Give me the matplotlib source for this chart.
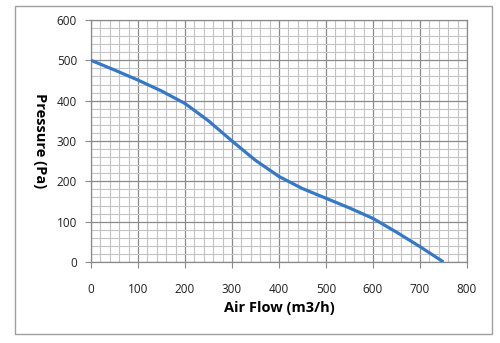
import matplotlib.pyplot as plt
from matplotlib.patches import Rectangle
from matplotlib.ticker import MultipleLocator

# 风量-风压曲线
air_flow = [0, 50, 100, 150, 200, 250, 300, 350, 400, 450, 500, 550, 600, 650, 700, 750]
pressure = [500, 476, 451, 424, 393, 350, 300, 252, 212, 182, 158, 134, 108, 74, 38, 0]

x_ticks = [0, 100, 200, 300, 400, 500, 600, 700, 800]
y_ticks = [0, 100, 200, 300, 400, 500, 600]

plt.rcParams['font.family'] = ['Open Sans', 'DejaVu Sans']

fig = plt.figure(figsize=(5.0, 3.43), dpi=100)
W, H = 500, 343
ax = fig.add_axes([91 / W, 1 - 262 / H, (467 - 91) / W, (262 - 20) / H])

# 外边框
fig.patches.append(Rectangle((15 / W, 1 - 334 / H), (492 - 15) / W, (334 - 6) / H,
                             transform=fig.transFigure, fill=False,
                             edgecolor='#a0a0a0', linewidth=1.0))

ax.plot(air_flow, pressure, color='#3478c9', linewidth=2.3, solid_capstyle='butt',
        solid_joinstyle='round', zorder=3)

ax.set_xlim(0, 800)
ax.set_ylim(0, 600)
ax.set_xticks(x_ticks)
ax.set_yticks(y_ticks)
ax.xaxis.set_minor_locator(MultipleLocator(20))
ax.yaxis.set_minor_locator(MultipleLocator(20))
ax.grid(which='major', color='#8a8a8a', linewidth=0.9, zorder=1)
ax.grid(which='minor', color='#c4c4c4', linewidth=0.8, zorder=0)
ax.set_axisbelow(True)

for s in ax.spines.values():
    s.set_color('#8a8a8a')
    s.set_linewidth(0.9)
ax.tick_params(which='major', length=4, color='#8a8a8a', labelsize=8.5, labelcolor='#202020')
ax.tick_params(axis='x', which='major', pad=11)
ax.tick_params(axis='y', which='major', pad=6)
ax.tick_params(which='minor', length=0)

ax.set_xlabel('Air Flow (m3/h)', fontsize=10.5, fontweight='bold', labelpad=4)
ax.set_ylabel('Pressure (Pa)', fontsize=10.5, fontweight='bold', rotation=270,
              va='center', ha='center')
ax.yaxis.set_label_coords(-(91 - 40) / (467 - 91), 0.5)

fig.savefig('out.png', dpi=100)
